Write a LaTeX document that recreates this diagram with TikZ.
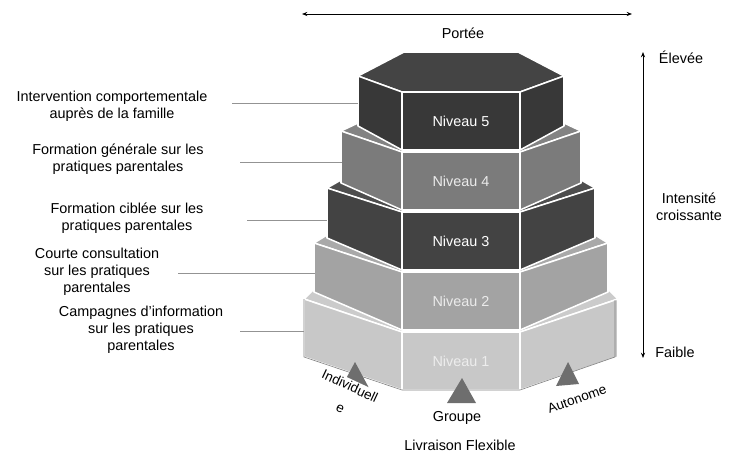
\documentclass[tikz,border=0pt]{standalone}
\usepackage{fontspec}
\setmainfont{Liberation Sans}
\usetikzlibrary{arrows.meta}
\definecolor{niv1}{HTML}{C8C8C8}
\definecolor{niv2}{HTML}{A3A3A3}
\definecolor{niv3}{HTML}{434343}
\definecolor{niv4}{HTML}{7B7B7B}
\definecolor{niv5}{HTML}{383838}
\definecolor{fleche}{HTML}{6E6E6E}
\begin{document}
\begin{tikzpicture}[x=0.03cm,y=-0.03cm,>={Stealth[length=4.5pt,width=3.5pt]},
    face/.style={draw=white,line width=1.3pt,line join=round},
    lbl/.style={align=center,font=\fontsize{12.3}{14.6}\selectfont},
    petit/.style={align=center,font=\fontsize{11.5}{14}\selectfont},
    conn/.style={color=gray!85,line width=0.6pt}]
  \useasboundingbox (0,0) rectangle (736,453);
  % les cinq niveaux, du bas vers le haut
  \foreach \k/\d/\ts/\bs/\yt/\dn/\bn/\col/\txt in {
      1/98/299/357/332/88/289/niv1/white!93!black,
      2/88/243/292/272/75/235/niv2/white!92!black,
      3/75/188/238/212/61/180/niv3/white,
      4/61/131/183/152/44/123/niv4/white!92!black,
      5/44/76/126/92/-2/52/niv5/white}{
    \draw[face,fill=\col!94!white] (402-\d,\ts) -- (402,\yt) -- (520,\yt) -- (520+\d,\ts)
      -- (520+\dn,\bn) -- (402-\dn,\bn) -- cycle;
    \draw[face,fill=\col] (402-\d,\ts) -- (402,\yt) -- (402,\yt+58) -- (402-\d,\bs) -- cycle;
    \draw[face,fill=\col] (520,\yt) -- (520+\d,\ts) -- (520+\d,\bs) -- (520,\yt+58) -- cycle;
    \draw[face,fill=\col] (402,\yt) rectangle (520,\yt+58);
    \node[lbl,text=\txt] (niv\k) at (461,\yt+29) {Niveau \k};
  }
  \draw[gray,line width=0.5pt] (304,299) -- (304,357) -- (402,390) -- (520,390) -- (615,357) -- (615,300);

  % modes de livraison
  \fill[fleche] (355,362) -- (369,388) -- (341,388) -- cycle;
  \fill[fleche] (462,378) -- (476,403) -- (447,403) -- cycle;
  \fill[fleche] (568,362) -- (579,384) -- (556,386) -- cycle;
  \node[petit,fill=white,rotate=-25,inner sep=1.5pt] (indiv) at (350,386) {Individuell};
  \node[petit,rotate=-25,inner sep=1pt] (indiv2) at (340,409) {e};
  \node[petit,fill=white,rotate=20,inner sep=1.5pt] (auto) at (577,399) {Autonome};
  \node[lbl] (groupe) at (457,418) {Groupe};
  \node[lbl] (livr) at (460,445) {Livraison Flexible};

  % libellés à gauche
  \node[lbl] (lab5) at (112,106) {Intervention comportementale\\auprès de la famille};
  \node[lbl] (lab4) at (118,159) {Formation générale sur les\\pratiques parentales};
  \node[lbl] (lab3) at (127,218) {Formation ciblée sur les\\pratiques parentales};
  \node[lbl] (lab2) at (97,272) {Courte consultation\\sur les pratiques\\parentales};
  \node[lbl] (lab1) at (141,330) {Campagnes d’information\\sur les pratiques\\parentales};
  \coordinate (s5) at (232,103); \coordinate (e5) at (358,103);
  \coordinate (s4) at (240,162); \coordinate (e4) at (342,162);
  \coordinate (s3) at (247,220); \coordinate (e3) at (327,220);
  \coordinate (s2) at (178,273); \coordinate (e2) at (315,273);
  \coordinate (s1) at (240,331); \coordinate (e1) at (304,331);
  \foreach \i in {1,...,5} \draw[conn] (s\i) -- (e\i);

  % axes
  \coordinate (pg) at (302,14); \coordinate (pd) at (632,14);
  \draw[<->,line width=0.8pt] (pg) -- (pd);
  \node[lbl] (portee) at (463,33) {Portée};
  \coordinate (haut) at (643,52); \coordinate (bas) at (643,358);
  \draw[<->,line width=0.8pt] (bas) -- (haut);
  \node[lbl] (elevee) at (681,57) {Élevée};
  \node[lbl] (intens) at (689,207) {Intensité\\croissante};
  \node[lbl] (faible) at (675,352) {Faible};
\end{tikzpicture}
\end{document}
